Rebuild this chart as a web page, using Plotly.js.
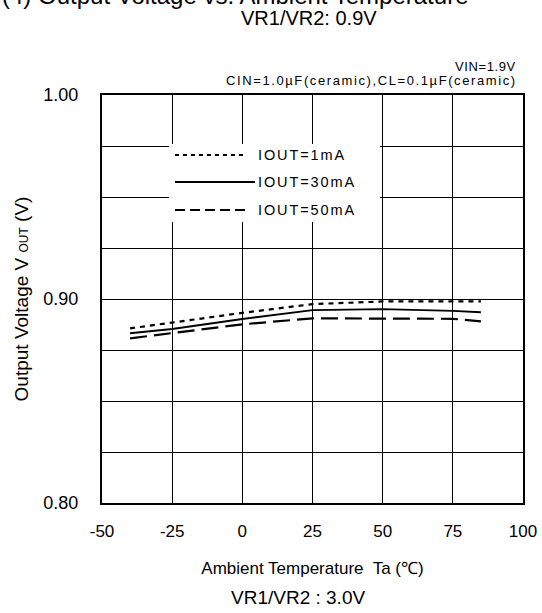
<!DOCTYPE html>
<html>
<head>
<meta charset="utf-8">
<script src="https://cdn.plot.ly/plotly-3.0.1.min.js"></script>
<style>html,body{margin:0;padding:0;background:#fff;}#chart{width:542px;height:613px;}</style>
</head>
<body>
<div id="chart"></div>
<script>
// Data
var temperature = [-40, -25, 0, 25, 50, 75, 85];
var vout_1mA  = [0.8856, 0.8884, 0.8932, 0.8975, 0.8988, 0.8988, 0.8988];
var vout_30mA = [0.8832, 0.8853, 0.8902, 0.8945, 0.8950, 0.8942, 0.8935];
var vout_50mA = [0.8807, 0.8832, 0.8876, 0.8905, 0.8905, 0.8903, 0.8890];
var seriesNames = ["IOUT=1mA", "IOUT=30mA", "IOUT=50mA"];
var xTickVals = [-50, -25, 0, 25, 50, 75, 100];
var xTickText = ["-50", "-25", "0", "25", "50", "75", "100"];
var yTickVals = [0.80, 0.825, 0.85, 0.875, 0.90, 0.925, 0.95, 0.975, 1.00];
var yTickText = ["0.80", "", "", "", "0.90", "", "", "", "1.00"];

var FONT = "Liberation Sans, Arial, sans-serif";

var traces = [
  {x: temperature, y: vout_1mA, name: seriesNames[0], mode: "lines",
   line: {color: "#000", width: 2.2, dash: "5px,5px"}},
  {x: temperature, y: vout_30mA, name: seriesNames[1], mode: "lines",
   line: {color: "#000", width: 1.8}},
  {x: temperature, y: vout_50mA, name: seriesNames[2], mode: "lines",
   line: {color: "#000", width: 2.2, dash: "17px,7px"}}
];

// manual legend (paper coords)
var W = 421, H = 408, L = 102, T = 95;
function px(p){ return (p - L) / W; }
function py(p){ return (T + H - p) / H; }

function spaced(t, s){ return "<span style='letter-spacing:" + s + "px'>" + t + "</span>"; }

var legendRows = [155, 182, 210];
var legendDash = ["4px,4px", "solid", "10px,5px"];
var shapes = [{type: "rect", xref: "paper", yref: "paper", x0: px(169), x1: px(380), y0: py(144), y1: py(222),
  fillcolor: "#fff", line: {width: 0}, layer: "above"}];
var annotations = [];
for (var i = 0; i < 3; i++) {
  shapes.push({type: "line", xref: "paper", yref: "paper", x0: px(175), x1: px(i === 1 ? 255 : 246),
    y0: py(legendRows[i]), y1: py(legendRows[i]), layer: "above",
    line: {color: "#000", width: i === 1 ? 1.8 : 2.2, dash: legendDash[i]}});
  annotations.push({xref: "paper", yref: "paper", x: px(256), y: py(legendRows[i]), xanchor: "left", yanchor: "middle",
    text: spaced(seriesNames[i], 1.9), showarrow: false, font: {family: FONT, size: 14.5, color: "#000"}});
}

annotations.push(
  {xref: "paper", yref: "paper", x: px(0), y: py(11), xanchor: "left", yanchor: "bottom",
   text: "(4) Output Voltage vs. Ambient Temperature", showarrow: false, font: {family: FONT, size: 24, color: "#000"}},
  {xref: "paper", yref: "paper", x: px(309), y: py(18), xanchor: "center", yanchor: "middle",
   text: "VR1/VR2: 0.9V", showarrow: false, font: {family: FONT, size: 20, color: "#000"}},
  {xref: "paper", yref: "paper", x: px(518), y: py(66), xanchor: "right", yanchor: "middle",
   text: spaced("VIN=1.9V", 0.6), showarrow: false, font: {family: FONT, size: 13, color: "#000"}},
  {xref: "paper", yref: "paper", x: px(519), y: py(81), xanchor: "right", yanchor: "middle",
   text: spaced("CIN=1.0µF(ceramic),CL=0.1µF(ceramic)", 1.6), showarrow: false, font: {family: FONT, size: 13, color: "#000"}},
  {xref: "paper", yref: "paper", x: px(298), y: py(597), xanchor: "center", yanchor: "middle",
   text: "VR1/VR2 : 3.0V", showarrow: false, font: {family: FONT, size: 19, color: "#000"}}
);

var layout = {
  width: 542, height: 613,
  margin: {l: 102, r: 19, t: 95, b: 110, pad: 0},
  paper_bgcolor: "#fff", plot_bgcolor: "#fff",
  showlegend: false,
  font: {family: FONT, color: "#000", size: 17},
  xaxis: {
    range: [-50, 100], tickvals: xTickVals, ticktext: xTickText,
    showgrid: true, gridcolor: "#000", gridwidth: 1,
    showline: true, mirror: true, linecolor: "#000", linewidth: 2,
    ticks: "", ticklabelstandoff: 12, zeroline: false,
    tickfont: {family: FONT, size: 17, color: "#000"},
    title: {text: "Ambient Temperature  Ta (℃)", standoff: 22, font: {family: FONT, size: 17, color: "#000"}},
    automargin: false
  },
  yaxis: {
    range: [0.80, 1.00], tickvals: yTickVals, ticktext: yTickText,
    showgrid: true, gridcolor: "#000", gridwidth: 1,
    showline: true, mirror: true, linecolor: "#000", linewidth: 2,
    ticks: "", ticklabelstandoff: 18, zeroline: false,
    tickfont: {family: FONT, size: 18, color: "#000"},
    title: {text: "Output Voltage V <span style='font-size:12px'>OUT</span> (V)", standoff: 10, font: {family: FONT, size: 19, color: "#000"}},
    automargin: false
  },
  shapes: shapes,
  annotations: annotations
};

Plotly.newPlot("chart", traces, layout, {displayModeBar: false, staticPlot: true});
</script>
</body>
</html>
